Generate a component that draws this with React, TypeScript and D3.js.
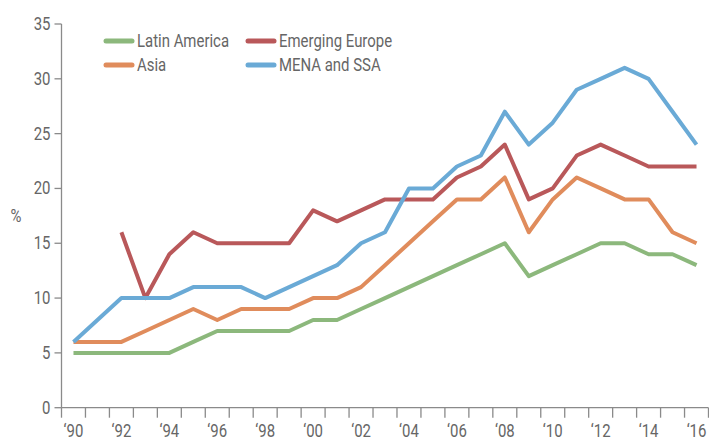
import React, { useRef, useEffect } from "react";
import * as d3 from "d3";

const years = d3.range(1990, 2017);
const latinAmerica = [5, 5, 5, 5, 5, 6, 7, 7, 7, 7, 8, 8, 9, 10, 11, 12, 13, 14, 15, 12, 13, 14, 15, 15, 14, 14, 13];
const asia = [6, 6, 6, 7, 8, 9, 8, 9, 9, 9, 10, 10, 11, 13, 15, 17, 19, 19, 21, 16, 19, 21, 20, 19, 19, 16, 15];
const emergingEurope = [null, null, 16, 10, 14, 16, 15, 15, 15, 15, 18, 17, 18, 19, 19, 19, 21, 22, 24, 19, 20, 23, 24, 23, 22, 22, 22];
const menaSsa = [6, 8, 10, 10, 10, 11, 11, 11, 10, 11, 12, 13, 15, 16, 20, 20, 22, 23, 27, 24, 26, 29, 30, 31, 30, 27, 24];
const yTicks = [0, 5, 10, 15, 20, 25, 30, 35];

const series = [
	{ name: "Latin America", values: latinAmerica, color: "#8cb87c" },
	{ name: "Emerging Europe", values: emergingEurope, color: "#b9585a" },
	{ name: "Asia", values: asia, color: "#e08c5c" },
	{ name: "MENA and SSA", values: menaSsa, color: "#6aaad6" },
];

const FONT = "Roboto, 'Liberation Sans', sans-serif";
const TEXT = "#666";
const AXIS = "#8a8a8a";
const SQUEEZE = 0.83;

const App = () => {
	const ref = useRef<SVGSVGElement>(null);
	const width = 709;
	const height = 440;

	useEffect(() => {
		const svg = d3.select(ref.current);
		svg.selectAll("*").remove();

		const x = d3.scaleBand<number>().domain(years).range([61.5, 708.5]);
		const y = d3.scaleLinear().domain([0, 35]).range([407.7, 24]);
		const x0 = x.range()[0];

		// condensed-looking text: scale horizontally round the anchor
		const label = (tx: number, ty: number, str: string, anchor: string) =>
			svg.append("text")
				.attr("transform", `translate(${tx},${ty}) scale(${SQUEEZE},1)`)
				.attr("text-anchor", anchor)
				.attr("fill", TEXT)
				.style("font-family", FONT)
				.style("font-size", "18px")
				.text(str);

		// y axis
		svg.append("line")
			.attr("x1", x0).attr("x2", x0)
			.attr("y1", y(0)).attr("y2", y(35))
			.attr("stroke", AXIS).attr("stroke-width", 1.3);
		yTicks.forEach((t) => {
			svg.append("line")
				.attr("x1", x0 - 7).attr("x2", x0)
				.attr("y1", y(t)).attr("y2", y(t))
				.attr("stroke", AXIS).attr("stroke-width", 1.3);
			label(x0 - 11, y(t) + 6, String(t), "end");
		});

		// x axis line with ticks at band edges
		svg.append("line")
			.attr("x1", x0)
			.attr("x2", x.range()[1])
			.attr("y1", y(0))
			.attr("y2", y(0))
			.attr("stroke", AXIS)
			.attr("stroke-width", 1.3);
		const edges = years.map((d) => x(d) as number).concat([x.range()[1]]);
		svg.selectAll(".xt")
			.data(edges)
			.enter()
			.append("line")
			.attr("x1", (d) => d)
			.attr("x2", (d) => d)
			.attr("y1", y(0))
			.attr("y2", y(0) + 10)
			.attr("stroke", AXIS)
			.attr("stroke-width", 1.3);
		years
			.filter((d) => d % 2 === 0)
			.forEach((d) => {
				label((x(d) as number) + x.bandwidth() / 2, 437, "\u2018" + String(d).slice(2), "middle");
			});

		// % label
		label(16, y(17.5) + 6, "%", "middle");

		// lines
		const line = d3
			.line<number | null>()
			.defined((d) => d !== null)
			.x((_, i) => (x(years[i]) as number) + x.bandwidth() / 2)
			.y((d) => y(d as number));

		series.forEach((s) => {
			svg.append("path")
				.datum(s.values)
				.attr("d", line)
				.attr("fill", "none")
				.attr("stroke", s.color)
				.attr("stroke-width", 4)
				.attr("stroke-linejoin", "round");
		});

		// legend
		const legendPos = [
			[106, 41],
			[248, 41],
			[106, 65],
			[248, 65],
		];
		series.forEach((s, i) => {
			const [lx, ly] = legendPos[i];
			svg.append("line")
				.attr("x1", lx)
				.attr("x2", lx + 26)
				.attr("y1", ly)
				.attr("y2", ly)
				.attr("stroke", s.color)
				.attr("stroke-width", 5)
				.attr("stroke-linecap", "round");
			label(lx + 31, ly + 6, s.name, "start");
		});
	}, []);

	return (
		<svg
			ref={ref}
			width={width}
			height={height}
			style={{ position: "absolute", left: 0, top: 0, background: "#fff" }}
		/>
	);
};

export default App;
